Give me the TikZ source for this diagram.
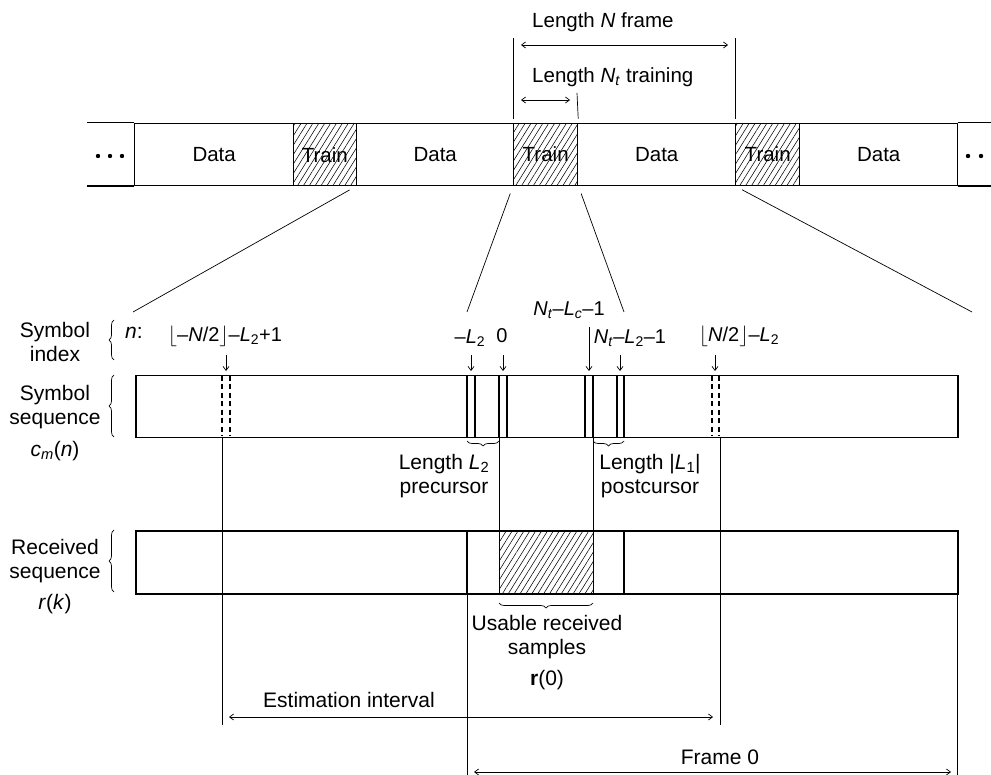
\documentclass[tikz,border=0pt]{standalone}
\usepackage{fontspec}
\setmainfont{Liberation Sans}
\usetikzlibrary{patterns.meta,arrows.meta,decorations.pathreplacing}
\newcommand\flo{\ensuremath{\bigl\lfloor}}
\newcommand\flc{\ensuremath{\bigr\rfloor}}
\tikzset{
  fine/.style={line width=0.7pt},
  barline/.style={line width=1.4pt},
  pairline/.style={line width=1.5pt},
  hatchpat/.style={pattern={Lines[angle=58,distance=5pt,line width=0.55pt]}},
  dnarrow/.style={fine,-{Straight Barb[length=4pt,width=6pt]}},
  dblarrow/.style={fine,{Straight Barb[length=4pt,width=6pt]}-{Straight Barb[length=4pt,width=6pt]}},
  lbrace/.style={fine,decorate,decoration={brace,amplitude=5pt}},
  seg/.style={draw,line width=1.4pt,minimum height=62pt,inner sep=0pt,anchor=south west,font=\fontsize{20.5}{24}\selectfont},
  lab/.style={inner sep=0pt,align=center},
  idx/.style={inner sep=0pt,font=\fontsize{20}{24}\selectfont},
}
\begin{document}
\begin{tikzpicture}[x=1pt,y=-1pt,font=\fontsize{21}{24.5}\selectfont]
\useasboundingbox (0,0) rectangle (991,775);

% ---------- top frame bar ----------
\node[seg,minimum width=159pt] (d1) at (134,186) {Data};
\node[seg,hatchpat,minimum width=63pt] (t1) at (293,186) {Train};
\node[seg,minimum width=157pt] (d2) at (356,186) {Data};
\node[seg,hatchpat,minimum width=64pt] (t2) at (513,186) {Train};
\node[seg,minimum width=158pt] (d3) at (577,186) {Data};
\node[seg,hatchpat,minimum width=64pt] (t3) at (735,186) {Train};
\node[seg,minimum width=158pt] (d4) at (799,186) {Data};
\draw[barline] (d1.north west) -- ++(-47,0);
\draw[barline] (d1.south west) -- ++(-47,0);
\draw[barline] (d4.north east) -- ++(40,0);
\draw[barline] (d4.south east) -- ++(40,0);
\foreach \x in {98,110,122} \fill (\x,156) circle (2.2pt);
\foreach \x in {968,981} \fill (\x,156) circle (2.2pt);

% ---------- top dimensions ----------
\coordinate (va) at (513,38);
\coordinate (vb) at (735,38);
\coordinate (vc) at (577,93);
\draw[fine,shorten >=4pt] (va) -- (t2.north west);
\draw[fine,shorten >=4pt] (vb) -- (t3.north west);
\draw[fine,shorten >=4pt] (vc) -- (t2.north east);
\coordinate (nA) at (521,45);
\coordinate (nB) at (728,45);
\coordinate (ntA) at (521,100);
\coordinate (ntB) at (570,100);
\draw[dblarrow] (nA) -- (nB);
\draw[dblarrow] (ntA) -- (ntB);
\node[lab,anchor=west,font=\fontsize{20.5}{24}\selectfont] (lN) at (532,22) {Length \textit{N} frame};
\node[lab,anchor=west,font=\fontsize{20.5}{24}\selectfont] (lNt) at (532,77) {Length \textit{N}\textsubscript{\textit{t}} training};

% ---------- fan lines ----------
\coordinate (f1) at (133,312);
\coordinate (f2) at (467,312);
\coordinate (f3) at (624,312);
\coordinate (f4) at (972,312);
\draw[fine,shorten <=8pt] (t1.south east) -- (f1);
\draw[fine,shorten <=8pt] (t2.south west) -- (f2);
\draw[fine,shorten <=8pt] (t2.south east) -- (f3);
\draw[fine,shorten <=8pt] (t3.south west) -- (f4);

% ---------- left labels ----------
\node[lab] (lsi) at (55,342) {Symbol\\index};
\node[lab] (lss) at (55,407) {Symbol\\sequence};
\node[lab] (lcm) at (55,451) {\textit{c}\textsubscript{\textit{m}}(\textit{n})};
\node[lab] (lrs) at (55,561) {Received\\sequence};
\node[lab] (lrk) at (55,604) {\textit{r}(\textit{k})};
\node[lab] (nlab) at (134,333) {\textit{n}:};
\coordinate (b1a) at (114,360); \coordinate (b1b) at (114,320);
\coordinate (b2a) at (114,437); \coordinate (b2b) at (114,375);
\coordinate (b3a) at (114,592); \coordinate (b3b) at (114,530);
\draw[lbrace] (b1a) -- (b1b);
\draw[lbrace] (b2a) -- (b2b);
\draw[lbrace] (b3a) -- (b3b);

% ---------- symbol sequence bar ----------
\node[draw,line width=1.5pt,minimum width=822pt,minimum height=62pt,inner sep=0pt,anchor=north west] (sym) at (135,375) {};
\foreach \x in {467,475,499,507,585,593,617,624}
  \draw[pairline] (\x,375) -- (\x,437);
\foreach \x in {222,230,712,719}
  \draw[pairline,dash pattern=on 5pt off 3.5pt] (\x,376) -- (\x,436);

% index labels and arrows
\node[idx] (i1) at (225,336) {\flo–\textit{N}/2\flc–\textit{L}\textsubscript{2}+1};
\node[idx] (i2) at (470,338) {–\textit{L}\textsubscript{2}};
\node[idx] (i3) at (502,336) {0};
\node[idx] (i4) at (569,310) {\textit{N}\textsubscript{\textit{t}}–\textit{L}\textsubscript{\textit{c}}–1};
\node[idx] (i5) at (630,338) {\textit{N}\textsubscript{\textit{t}}–\textit{L}\textsubscript{2}–1};
\node[idx] (i6) at (739,336) {\flo\textit{N}/2\flc–\textit{L}\textsubscript{2}};
\foreach \x in {226,471,503,620,715}
  \draw[dnarrow] (\x,355) -- (\x,371);
\draw[dnarrow] (589,327) -- (589,371);

% braces under symbol bar
\draw[lbrace] (499,441) -- (467,441);
\draw[lbrace] (624,441) -- (593,441);
\node[lab] (pre) at (444,476) {Length \textit{L}\textsubscript{2}\\precursor};
\node[lab] (post) at (650,476) {Length |\textit{L}\textsubscript{1}|\\postcursor};

% ---------- received sequence bar ----------
\node[draw,line width=1.5pt,minimum width=822pt,minimum height=63pt,inner sep=0pt,anchor=north west] (rec) at (135,530) {};
\draw[fine,hatchpat] (499,530) rectangle (593,593);
\draw[pairline] (467,530) -- (467,593);
\draw[pairline] (624,530) -- (624,593);
\draw[lbrace] (593,603) -- (499,603);

% ---------- vertical connectors ----------
\coordinate (e1) at (222,725);
\coordinate (e2) at (720,725);
\draw[fine] (222,437) -- (e1);
\draw[fine] (720,437) -- (e2);
\draw[fine] (499,437) -- (499,530);
\draw[fine] (593,437) -- (593,530);
\coordinate (g1) at (467,775);
\coordinate (g2) at (957,775);
\draw[fine] (467,593) -- (g1);
\draw[fine] (957,593) -- (g2);

% ---------- bottom labels ----------
\node[lab] (usable) at (547,637) {Usable received\\samples};
\node[lab] (r0) at (547,680) {\textbf{r}(0)};
\node[lab] (est) at (349,700) {Estimation interval};
\coordinate (eA) at (229,717);
\coordinate (eB) at (713,717);
\draw[dblarrow] (eA) -- (eB);
\node[lab] (fr0) at (720,757) {Frame 0};
\coordinate (fA) at (474,772);
\coordinate (fB) at (951,772);
\draw[dblarrow] (fA) -- (fB);
\end{tikzpicture}
\end{document}
